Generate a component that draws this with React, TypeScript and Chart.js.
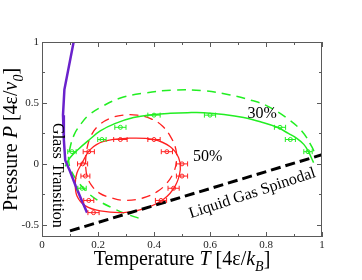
import React, { useEffect, useRef } from 'react';
import Chart from 'chart.js/auto';

// ---- axis ticks ----
const xTickValues = [0, 0.2, 0.4, 0.6, 0.8, 1];
const xTickLabels = ['0', '0.2', '0.4', '0.6', '0.8', '1'];
const xMinorTicks = [0.1, 0.3, 0.5, 0.7, 0.9];
const yTickValues = [-0.5, 0, 0.5, 1];
const yTickLabels = ['-0.5', '0', '0.5', '1'];
const yMinorTicks = [-0.25, 0.25, 0.75];

// ---- glass transition (purple) ----
const glassT = [0.113, 0.08, 0.075, 0.078, 0.083, 0.1, 0.12, 0.14, 0.161];
const glassP = [1.0, 0.61, 0.4, 0.2, 0.03, -0.06, -0.18, -0.29, -0.4];

// ---- liquid gas spinodal (black dashed) ----
const spinT = [0.1, 1.0];
const spinP = [-0.55, 0.075];

// ---- 30% solid fit (green) ----
const g30T = [0.083, 0.1, 0.13, 0.17, 0.208, 0.26, 0.327, 0.4, 0.458, 0.52, 0.577, 0.65, 0.72, 0.78, 0.84, 0.88, 0.91, 0.935, 0.952, 0.962, 0.97];
const g30P = [-0.02, 0.05, 0.12, 0.2, 0.27, 0.33, 0.38, 0.405, 0.415, 0.42, 0.42, 0.405, 0.38, 0.345, 0.3, 0.25, 0.21, 0.16, 0.1, 0.05, 0.01];

// ---- 30% dashed (green) ----
const g30dT = [0.345, 0.3, 0.25, 0.2, 0.16, 0.13, 0.105, 0.095, 0.1, 0.115, 0.14, 0.167, 0.214, 0.28, 0.363, 0.47, 0.577, 0.672, 0.75, 0.8, 0.875, 0.929, 0.964, 0.975];
const g30dP = [-0.445, -0.41, -0.36, -0.3, -0.23, -0.15, -0.06, 0.03, 0.13, 0.24, 0.33, 0.4, 0.47, 0.54, 0.58, 0.605, 0.6, 0.565, 0.52, 0.48, 0.375, 0.266, 0.14, 0.08];

// ---- 30% simulation points (green) ----
const g30ptT = [0.107, 0.143, 0.214, 0.28, 0.4, 0.6, 0.85, 0.887, 0.95];
const g30ptP = [0.1, -0.2, 0.2, 0.3, 0.4, 0.4, 0.3, 0.2, 0.1];
const g30ptErr = [0.015, 0.015, 0.015, 0.02, 0.022, 0.02, 0.02, 0.018, 0.015];

// ---- 50% solid fit (red, closed loop) ----
const r50T = [0.143, 0.172, 0.22, 0.304, 0.399, 0.458, 0.488, 0.494, 0.476, 0.434, 0.363, 0.291, 0.208, 0.155, 0.125, 0.119, 0.125, 0.143];
const r50P = [0.008, 0.117, 0.184, 0.21, 0.2, 0.14, 0.05, -0.046, -0.18, -0.29, -0.37, -0.4, -0.386, -0.345, -0.264, -0.155, -0.073, 0.008];

// ---- 50% dashed (red, closed loop) ----
const r50dT = [0.155, 0.16, 0.175, 0.2, 0.24, 0.29, 0.34, 0.39, 0.43, 0.46, 0.478, 0.48, 0.47, 0.445, 0.41, 0.36, 0.3, 0.25, 0.205, 0.175, 0.16, 0.155];
const r50dP = [0.0, 0.12, 0.23, 0.31, 0.37, 0.4, 0.4, 0.37, 0.31, 0.22, 0.12, 0.02, -0.07, -0.16, -0.23, -0.28, -0.3, -0.28, -0.24, -0.17, -0.09, 0.0];

// ---- 50% simulation points (red) ----
const r50ptT = [0.167, 0.145, 0.155, 0.167, 0.184, 0.28, 0.4, 0.446, 0.5, 0.5, 0.47, 0.425];
const r50ptP = [0.1, 0.0, -0.1, -0.3, -0.4, 0.2, 0.2, 0.1, 0.0, -0.1, -0.2, -0.3];
const r50ptErr = [0.02, 0.018, 0.016, 0.018, 0.02, 0.024, 0.022, 0.02, 0.02, 0.02, 0.02, 0.02];

// ---- annotations ----
const labelTexts = ['30%', '50%', 'Glass Transition', 'Liquid Gas Spinodal'];
const labelT = [0.786, 0.592, 0.056, 0.751];
const labelP = [0.41, 0.062, -0.095, -0.242];

const SERIF = "'Liberation Serif', 'DejaVu Serif', serif";
const GREEN = '#22ee22';
const RED = '#ff2020';
const PURPLE = '#6a22cc';

const pts = (xs: number[], ys: number[]) => xs.map((x, i) => ({ x, y: ys[i] }));

type Part = { t: string; it?: boolean; sub?: boolean };

function drawRich(ctx: CanvasRenderingContext2D, parts: Part[], size: number) {
  const font = (p: Part) => `${p.it ? 'italic ' : ''}${p.sub ? size * 0.7 : size}px ${SERIF}`;
  let total = 0;
  const widths = parts.map((p) => {
    ctx.font = font(p);
    const w = ctx.measureText(p.t).width;
    total += w;
    return w;
  });
  let x = -total / 2;
  ctx.textAlign = 'left';
  ctx.textBaseline = 'alphabetic';
  parts.forEach((p, i) => {
    ctx.font = font(p);
    ctx.fillText(p.t, x, p.sub ? size * 0.3 : 0);
    x += widths[i];
  });
}

const decorPlugin = {
  id: 'decor',
  afterDatasetsDraw(chart: any) {
    const ctx: CanvasRenderingContext2D = chart.ctx;
    const xs = chart.scales.x;
    const ys = chart.scales.y;
    // error bars
    const bars = [
      { T: g30ptT, P: g30ptP, E: g30ptErr, c: GREEN },
      { T: r50ptT, P: r50ptP, E: r50ptErr, c: RED },
    ];
    ctx.save();
    bars.forEach((b) => {
      ctx.strokeStyle = b.c;
      ctx.lineWidth = 1;
      b.T.forEach((t, i) => {
        const x0 = xs.getPixelForValue(t - b.E[i]);
        const x1 = xs.getPixelForValue(t + b.E[i]);
        const y = ys.getPixelForValue(b.P[i]);
        ctx.beginPath();
        ctx.moveTo(x0, y);
        ctx.lineTo(x1, y);
        ctx.moveTo(x0, y - 2.5);
        ctx.lineTo(x0, y + 2.5);
        ctx.moveTo(x1, y - 2.5);
        ctx.lineTo(x1, y + 2.5);
        ctx.stroke();
      });
    });
    ctx.restore();
  },
  afterDraw(chart: any) {
    const ctx: CanvasRenderingContext2D = chart.ctx;
    const xs = chart.scales.x;
    const ys = chart.scales.y;
    const { left, right, top, bottom } = chart.chartArea;
    ctx.save();
    // frame
    ctx.strokeStyle = '#5a5a5a';
    ctx.lineWidth = 1;
    ctx.strokeRect(left + 0.5, top + 0.5, right - left - 1, bottom - top - 1);
    ctx.beginPath();
    const tickX = (v: number, len: number) => {
      const x = Math.round(xs.getPixelForValue(v)) + 0.5;
      ctx.moveTo(x, bottom);
      ctx.lineTo(x, bottom - len);
      ctx.moveTo(x, top);
      ctx.lineTo(x, top + len);
    };
    const tickY = (v: number, len: number) => {
      const y = Math.round(ys.getPixelForValue(v)) + 0.5;
      ctx.moveTo(left, y);
      ctx.lineTo(left + len, y);
      ctx.moveTo(right, y);
      ctx.lineTo(right - len, y);
    };
    xTickValues.forEach((v) => tickX(v, 5));
    xMinorTicks.forEach((v) => tickX(v, 3));
    yTickValues.forEach((v) => tickY(v, 5));
    yMinorTicks.forEach((v) => tickY(v, 3));
    ctx.stroke();

    // annotations
    ctx.fillStyle = '#000';
    ctx.textAlign = 'center';
    ctx.textBaseline = 'middle';
    const rot = [0, 0, Math.PI / 2, -0.32];
    labelTexts.forEach((txt, i) => {
      ctx.save();
      ctx.translate(xs.getPixelForValue(labelT[i]), ys.getPixelForValue(labelP[i]));
      ctx.rotate(rot[i]);
      ctx.font = `16px ${SERIF}`;
      ctx.fillText(txt, 0, 0);
      ctx.restore();
    });

    // axis titles
    ctx.fillStyle = '#000';
    ctx.save();
    ctx.translate((left + right) / 2, 265);
    drawRich(ctx, [
      { t: 'Temperature ' },
      { t: 'T', it: true },
      { t: ' [4ε/' },
      { t: 'k', it: true },
      { t: 'B', it: true, sub: true },
      { t: ']' },
    ], 20);
    ctx.restore();
    ctx.save();
    ctx.translate(17, (top + bottom) / 2);
    ctx.rotate(-Math.PI / 2);
    drawRich(ctx, [
      { t: 'Pressure ' },
      { t: 'P', it: true },
      { t: ' [4ε/' },
      { t: 'v', it: true },
      { t: '0', it: true, sub: true },
      { t: ']' },
    ], 20);
    ctx.restore();
    ctx.restore();
  },
};

export default function App() {
  const ref = useRef<HTMLCanvasElement | null>(null);
  useEffect(() => {
    document.body.style.margin = '0';
    const canvas = ref.current!;
    const lineDs = (data: any, color: string, width: number, dash: number[], tension: number) => ({
      type: 'line',
      data,
      borderColor: color,
      borderWidth: width,
      borderDash: dash,
      pointRadius: 0,
      tension,
      fill: false,
      showLine: true,
    });
    const chart = new Chart(canvas, {
      type: 'scatter',
      data: {
        datasets: [
          {
            data: pts(r50ptT, r50ptP),
            showLine: false,
            pointRadius: 2,
            pointBorderWidth: 1,
            pointBorderColor: RED,
            pointBackgroundColor: 'rgba(0,0,0,0)',
          } as any,
          {
            data: pts(g30ptT, g30ptP),
            showLine: false,
            pointRadius: 2,
            pointBorderWidth: 1,
            pointBorderColor: GREEN,
            pointBackgroundColor: 'rgba(0,0,0,0)',
          } as any,
          lineDs(pts(spinT, spinP), '#000', 3, [10, 5], 0),
          lineDs(pts(glassT, glassP), PURPLE, 2.5, [], 0),
          lineDs(pts(r50T, r50P), RED, 1.3, [], 0.4),
          lineDs(pts(g30T, g30P), GREEN, 1.5, [], 0.4),
          lineDs(pts(r50dT, r50dP), RED, 1.3, [9, 6], 0.4),
          lineDs(pts(g30dT, g30dP), GREEN, 1.5, [9, 6], 0.4),
        ] as any,
      },
      options: {
        animation: false,
        responsive: false,
        devicePixelRatio: 1,
        layout: { padding: { left: 0, top: 42, right: 40, bottom: 0 } },
        plugins: { legend: { display: false }, tooltip: { enabled: false } },
        events: [],
        scales: {
          x: {
            type: 'linear',
            min: 0,
            max: 1,
            grid: { display: false, drawTicks: false },
            border: { display: false },
            afterBuildTicks: (s: any) => {
              s.ticks = xTickValues.map((v) => ({ value: v }));
            },
            afterFit: (s: any) => {
              s.height = 43;
            },
            ticks: {
              padding: 2,
              color: '#222',
              font: { family: SERIF, size: 11 },
              maxRotation: 0,
              callback: (v: any) => xTickLabels[xTickValues.indexOf(Number(v))] ?? '',
            },
          },
          y: {
            type: 'linear',
            min: -0.6,
            max: 1,
            grid: { display: false, drawTicks: false },
            border: { display: false },
            afterBuildTicks: (s: any) => {
              s.ticks = yTickValues.map((v) => ({ value: v }));
            },
            afterFit: (s: any) => {
              s.width = 42;
            },
            ticks: {
              padding: 3,
              color: '#222',
              font: { family: SERIF, size: 11 },
              callback: (v: any) => yTickLabels[yTickValues.indexOf(Number(v))] ?? '',
            },
          },
        },
      } as any,
      plugins: [decorPlugin],
    });
    return () => chart.destroy();
  }, []);
  return (
    <div style={{ width: 362, height: 280 }}>
      <canvas ref={ref} width={362} height={280} style={{ display: 'block' }} />
    </div>
  );
}
